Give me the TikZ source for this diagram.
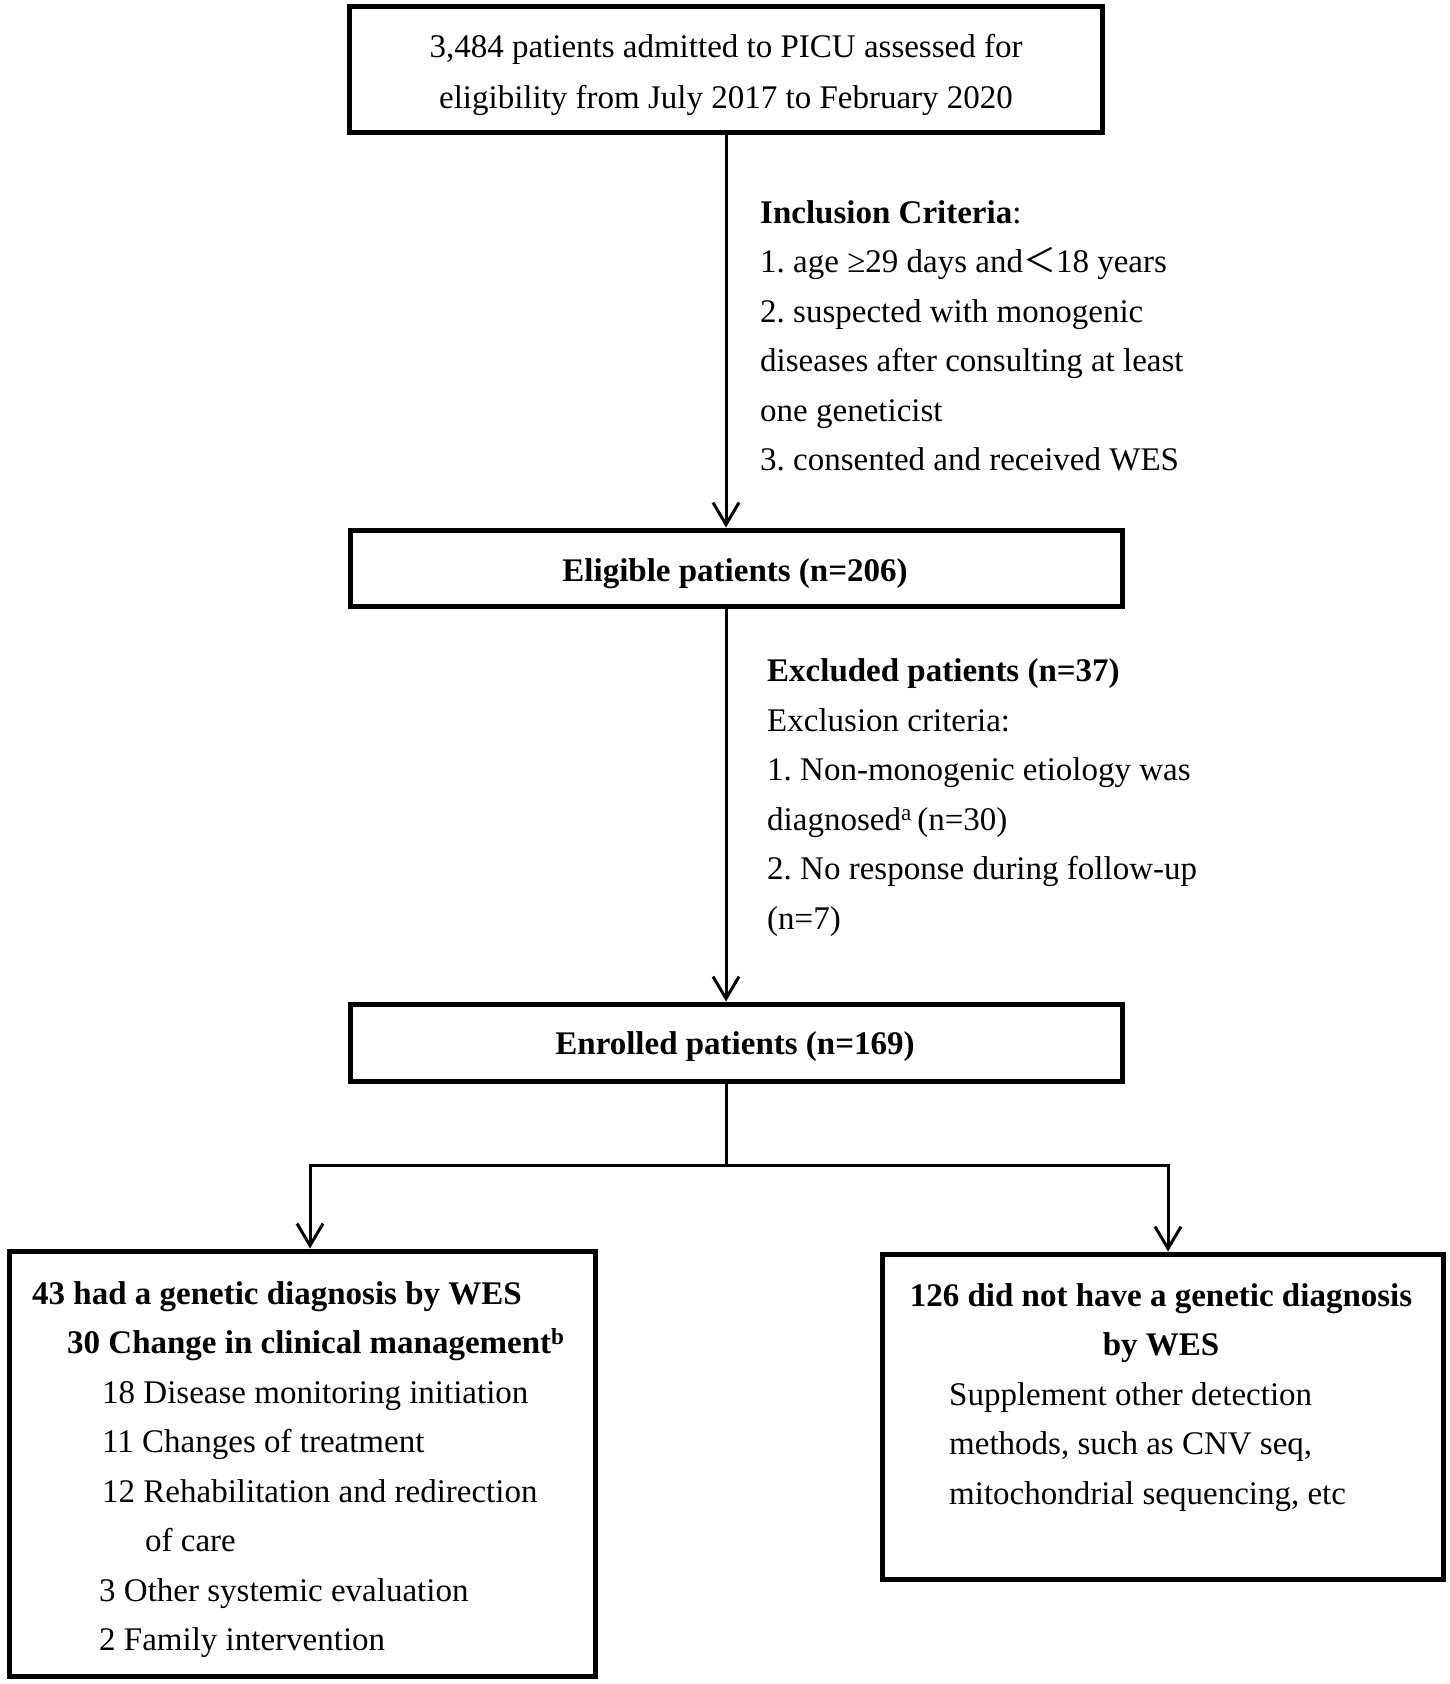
\documentclass[tikz,border=0pt]{standalone}
\usepackage{fontspec}
\setmainfont{Liberation Serif}
\newfontfamily\cjk{Noto Sans CJK SC}
\usetikzlibrary{arrows.meta}
\frenchspacing
\begin{document}
\begin{tikzpicture}[x=1pt,y=-1pt,
  box/.style={draw,line width=5pt,inner sep=0pt},
  conn/.style={line width=3pt},
  arr/.style={line width=3pt,-{Straight Barb[length=22pt,width=26pt,line width=3pt]}},
  txt/.style={inner sep=0pt,font=\fontsize{33}{49.5}\selectfont\frenchspacing},
  ltxt/.style={txt,anchor=base west},
  ctxt/.style={txt,anchor=base}]
\useasboundingbox[fill=white] (0,0) rectangle (1450,1684);
% boxes
\node[box,minimum width=753pt,minimum height=126pt] (top) at (726,69.5) {};
\node[box,minimum width=772pt,minimum height=76pt] (elig) at (736,568) {};
\node[box,minimum width=772pt,minimum height=77pt] (enr) at (736,1042.5) {};
\node[box,minimum width=586pt,minimum height=425pt] (left) at (302.5,1463.5) {};
\node[box,minimum width=561pt,minimum height=325pt] (right) at (1163,1416.5) {};
% connectors
\coordinate (split) at (726,1165);
\coordinate (cL) at (310,1165);
\coordinate (cR) at (1168,1165);
\draw[arr] (top.south) -- (top.south |- elig.north);
\draw[arr] (top.south |- elig.south) -- (top.south |- enr.north);
\draw[conn] (top.south |- enr.south) -- (split);
\draw[arr] (split) -- (cL) -- (cL |- left.north);
\draw[arr] (split) -- (cR) -- (cR |- right.north);
% top box text
\node[ctxt] (t1) at (726,57) {3,484 patients admitted to PICU assessed for};
\node[ctxt] (t2) at (726,108) {eligibility from July 2017 to February 2020};
% inclusion
\node[ltxt] (i0) at (760,223) {\textbf{Inclusion Criteria}:};
\node[ltxt] (i1) at (760,272.5) {1. age ≥29 days and{\cjk ＜}18 years};
\node[ltxt] (i2) at (760,322) {2. suspected with monogenic};
\node[ltxt] (i3) at (760,371.5) {diseases after consulting at least};
\node[ltxt] (i4) at (760,421) {one geneticist};
\node[ltxt] (i5) at (760,470.5) {3. consented and received WES};
% eligible
\node[ctxt] (e1) at (735,581) {\textbf{Eligible patients (n=206)}};
% exclusion
\node[ltxt] (x0) at (767,681.5) {\textbf{Excluded patients (n=37)}};
\node[ltxt] (x1) at (767,731) {Exclusion criteria:};
\node[ltxt] (x2) at (767,780.5) {1. Non-monogenic etiology was};
\node[ltxt] (x3) at (767,830) {diagnosed\textsuperscript{a}\,(n=30)};
\node[ltxt] (x4) at (767,879.5) {2. No response during follow-up};
\node[ltxt] (x5) at (767,929) {(n=7)};
% enrolled
\node[ctxt] (n1) at (735,1054) {\textbf{Enrolled patients (n=169)}};
% left box text
\node[ltxt] (l1) at (32,1304) {\textbf{43 had a genetic diagnosis by WES}};
\node[ltxt] (l2) at (67,1353.5) {\textbf{30 Change in clinical management\textsuperscript{b}}};
\node[ltxt] (l3) at (102,1403) {18 Disease monitoring initiation};
\node[ltxt] (l4) at (102,1452.5) {11 Changes of treatment};
\node[ltxt] (l5) at (102,1502) {12 Rehabilitation and redirection};
\node[ltxt] (l6) at (145,1551.5) {of care};
\node[ltxt] (l7) at (99,1601) {3 Other systemic evaluation};
\node[ltxt] (l8) at (99,1650.5) {2 Family intervention};
% right box text
\node[ctxt] (r1) at (1161,1306) {\textbf{126 did not have a genetic diagnosis}};
\node[ctxt] (r2) at (1161,1355.5) {\textbf{by WES}};
\node[ltxt] (r3) at (949,1405) {Supplement other detection};
\node[ltxt] (r4) at (949,1454.5) {methods, such as CNV seq,};
\node[ltxt] (r5) at (949,1504) {mitochondrial sequencing, etc};
\end{tikzpicture}
\end{document}
